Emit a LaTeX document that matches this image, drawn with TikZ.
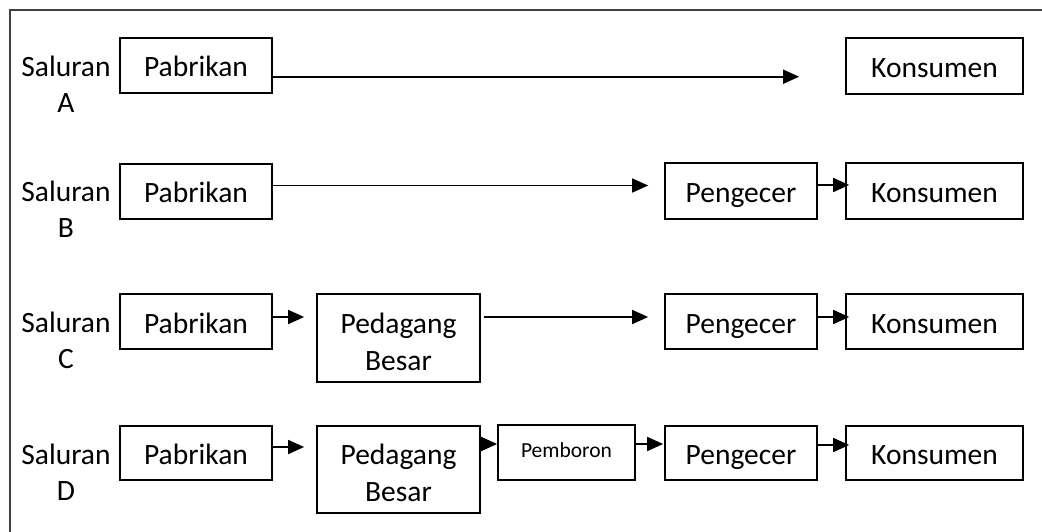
\documentclass[tikz,border=0pt]{standalone}
\usepackage{fontspec}
\setmainfont{Carlito}
\usetikzlibrary{arrows.meta}
\begin{document}
\begin{tikzpicture}[x=1pt,y=-1pt,
  box/.style={draw=black,line width=1.7pt,inner sep=0pt,align=center,
    font=\fontsize{29.5}{37}\selectfont,text height=23pt,text depth=0pt},
  box2/.style={draw=black,line width=1.7pt,inner sep=0pt,align=center,
    font=\fontsize{29.5}{37}\selectfont},
  lbl/.style={inner sep=0pt,align=center,font=\fontsize{29.5}{36}\selectfont},
  arr/.style={line width=1.7pt,-{Triangle[length=16pt,width=14pt]}},
  frame/.style={draw=black!75,line width=2pt}]
\useasboundingbox (0,0) rectangle (1042,532);
% outer frame (top and left edges visible)
\draw[frame] (1042,10) -- (10,10) -- (10,532);
% labels
\node[lbl] (lA) at (66,84) {Saluran\\A};
\node[lbl] (lB) at (66,209) {Saluran\\B};
\node[lbl] (lC) at (66,340) {Saluran\\C};
\node[lbl] (lD) at (66,472) {Saluran\\D};
% row A
\node[box,minimum width=152pt,minimum height=55pt] (pA) at (196,65.5) {Pabrikan};
\node[box,minimum width=177pt,minimum height=56pt] (kA) at (934.5,66) {Konsumen};
% row B
\node[box,minimum width=152pt,minimum height=55pt] (pB) at (196,191.5) {Pabrikan};
\node[box,minimum width=152pt,minimum height=56pt] (gB) at (741,191) {Pengecer};
\node[box,minimum width=177pt,minimum height=56pt] (kB) at (934.5,191) {Konsumen};
% row C
\node[box,minimum width=152pt,minimum height=55pt] (pC) at (196,321.5) {Pabrikan};
\node[box2,minimum width=163pt,minimum height=88pt] (bC) at (398.5,338) {\rule{0pt}{28pt}Pedagang\\Besar};
\node[box,minimum width=152pt,minimum height=55pt] (gC) at (741,321.5) {Pengecer};
\node[box,minimum width=177pt,minimum height=55pt] (kC) at (934.5,321.5) {Konsumen};
% row D
\node[box,minimum width=152pt,minimum height=54pt] (pD) at (196,453) {Pabrikan};
\node[box2,minimum width=163pt,minimum height=87pt] (bD) at (398.5,469.5) {\rule{0pt}{28pt}Pedagang\\Besar};
\node[box,minimum width=137pt,minimum height=55pt,font=\fontsize{21.5}{26}\selectfont,text height=9pt] (mD) at (566.5,452.5) {Pemboron};
\node[box,minimum width=152pt,minimum height=54pt] (gD) at (741,453) {Pengecer};
\node[box,minimum width=177pt,minimum height=54pt] (kD) at (934.5,453) {Konsumen};
% arrows row A
\draw[arr,shorten >=46pt] (pA.east |- 0,76.7) -- (kA.west |- 0,76.7);
% row B
\draw[arr,shorten >=16pt] (pB.east |- 0,185.5) -- (gB.west |- 0,185.5);
\draw[arr,shorten >=-4pt] (gB.east |- 0,185) -- (kB.west |- 0,185);
% row C
\draw[arr,shorten >=12pt] (pC.east |- 0,317) -- (bC.west |- 0,317);
\draw[arr,shorten <=3pt,shorten >=16pt] (bC.east |- 0,317) -- (gC.west |- 0,317);
\draw[arr,shorten >=-4pt] (gC.east |- 0,317) -- (kC.west |- 0,317);
% row D
\draw[arr,shorten >=12pt] (pD.east |- 0,447) -- (bD.west |- 0,447);
\draw[arr] (bD.east |- 0,444) -- (mD.west |- 0,444);
\draw[arr,shorten >=1pt] (mD.east |- 0,444) -- (gD.west |- 0,444);
\draw[arr,shorten >=-4pt] (gD.east |- 0,445) -- (kD.west |- 0,445);
\end{tikzpicture}
\end{document}
